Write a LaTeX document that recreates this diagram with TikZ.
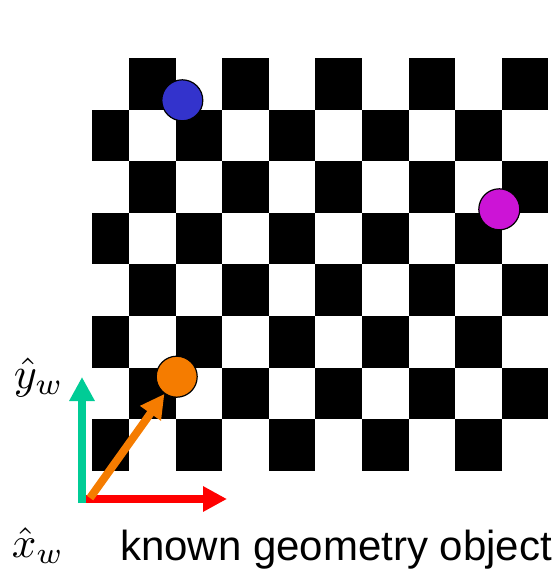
\documentclass[tikz,border=0pt]{standalone}
\usepackage{fontspec}
\newfontfamily\capfont{Liberation Sans}
\usetikzlibrary{arrows.meta}
\definecolor{ballblue}{RGB}{51,51,204}
\definecolor{ballmagenta}{RGB}{204,20,214}
\definecolor{ballorange}{RGB}{245,124,0}
\definecolor{axisgreen}{RGB}{0,204,150}
\definecolor{axisred}{RGB}{255,0,0}
\begin{document}
\begin{tikzpicture}[x=1pt,y=-1pt,>={Triangle[length=24pt,width=24pt]},
  ball/.style={circle,draw=black,line width=1.2pt,minimum size=41pt,inner sep=0pt},
  axis/.style={->,line width=8pt}]
\useasboundingbox (0,0) rectangle (560,571);
% checkerboard
\begin{scope}
\clip (92,58) rectangle (548.7,471);
\foreach \r in {0,...,7}
  \foreach \c in {0,...,9}{
    \pgfmathtruncatemacro\odd{mod(\r+\c,2)}
    \ifnum\odd=1 \fill (82.4+46.6*\c,58+51.6*\r) rectangle ++(46.6,51.6);\fi
  }
\end{scope}
\node[ball,fill=ballblue] (blueball) at (182.3,100.3) {};
\node[ball,fill=ballmagenta] (magball) at (499.3,209.3) {};
\node[ball,fill=ballorange] (orangeball) at (176.7,376.7) {};
% world axes
\coordinate (ybase) at (82,503);\coordinate (ytip) at (82,377);
\coordinate (xbase) at (86,499);\coordinate (xtip) at (227,499);
\coordinate (ostart) at (90,498);
\draw[axis,axisgreen] (ybase)--(ytip);
\draw[axis,axisred] (xbase)--(xtip);
\draw[axis,ballorange] (ostart)--(orangeball);
\node[scale=4.4,anchor=base west,inner sep=0pt] (ylab) at (13,388) {$\hat{y}_w$};
\node[scale=4.3,anchor=base west,inner sep=0pt] (xlab) at (11,557) {$\hat{x}_w$};
\node[anchor=base west,inner sep=0pt,font=\capfont\fontsize{42}{48}\selectfont] (caption) at (120,560) {known geometry object};
\end{tikzpicture}
\end{document}
